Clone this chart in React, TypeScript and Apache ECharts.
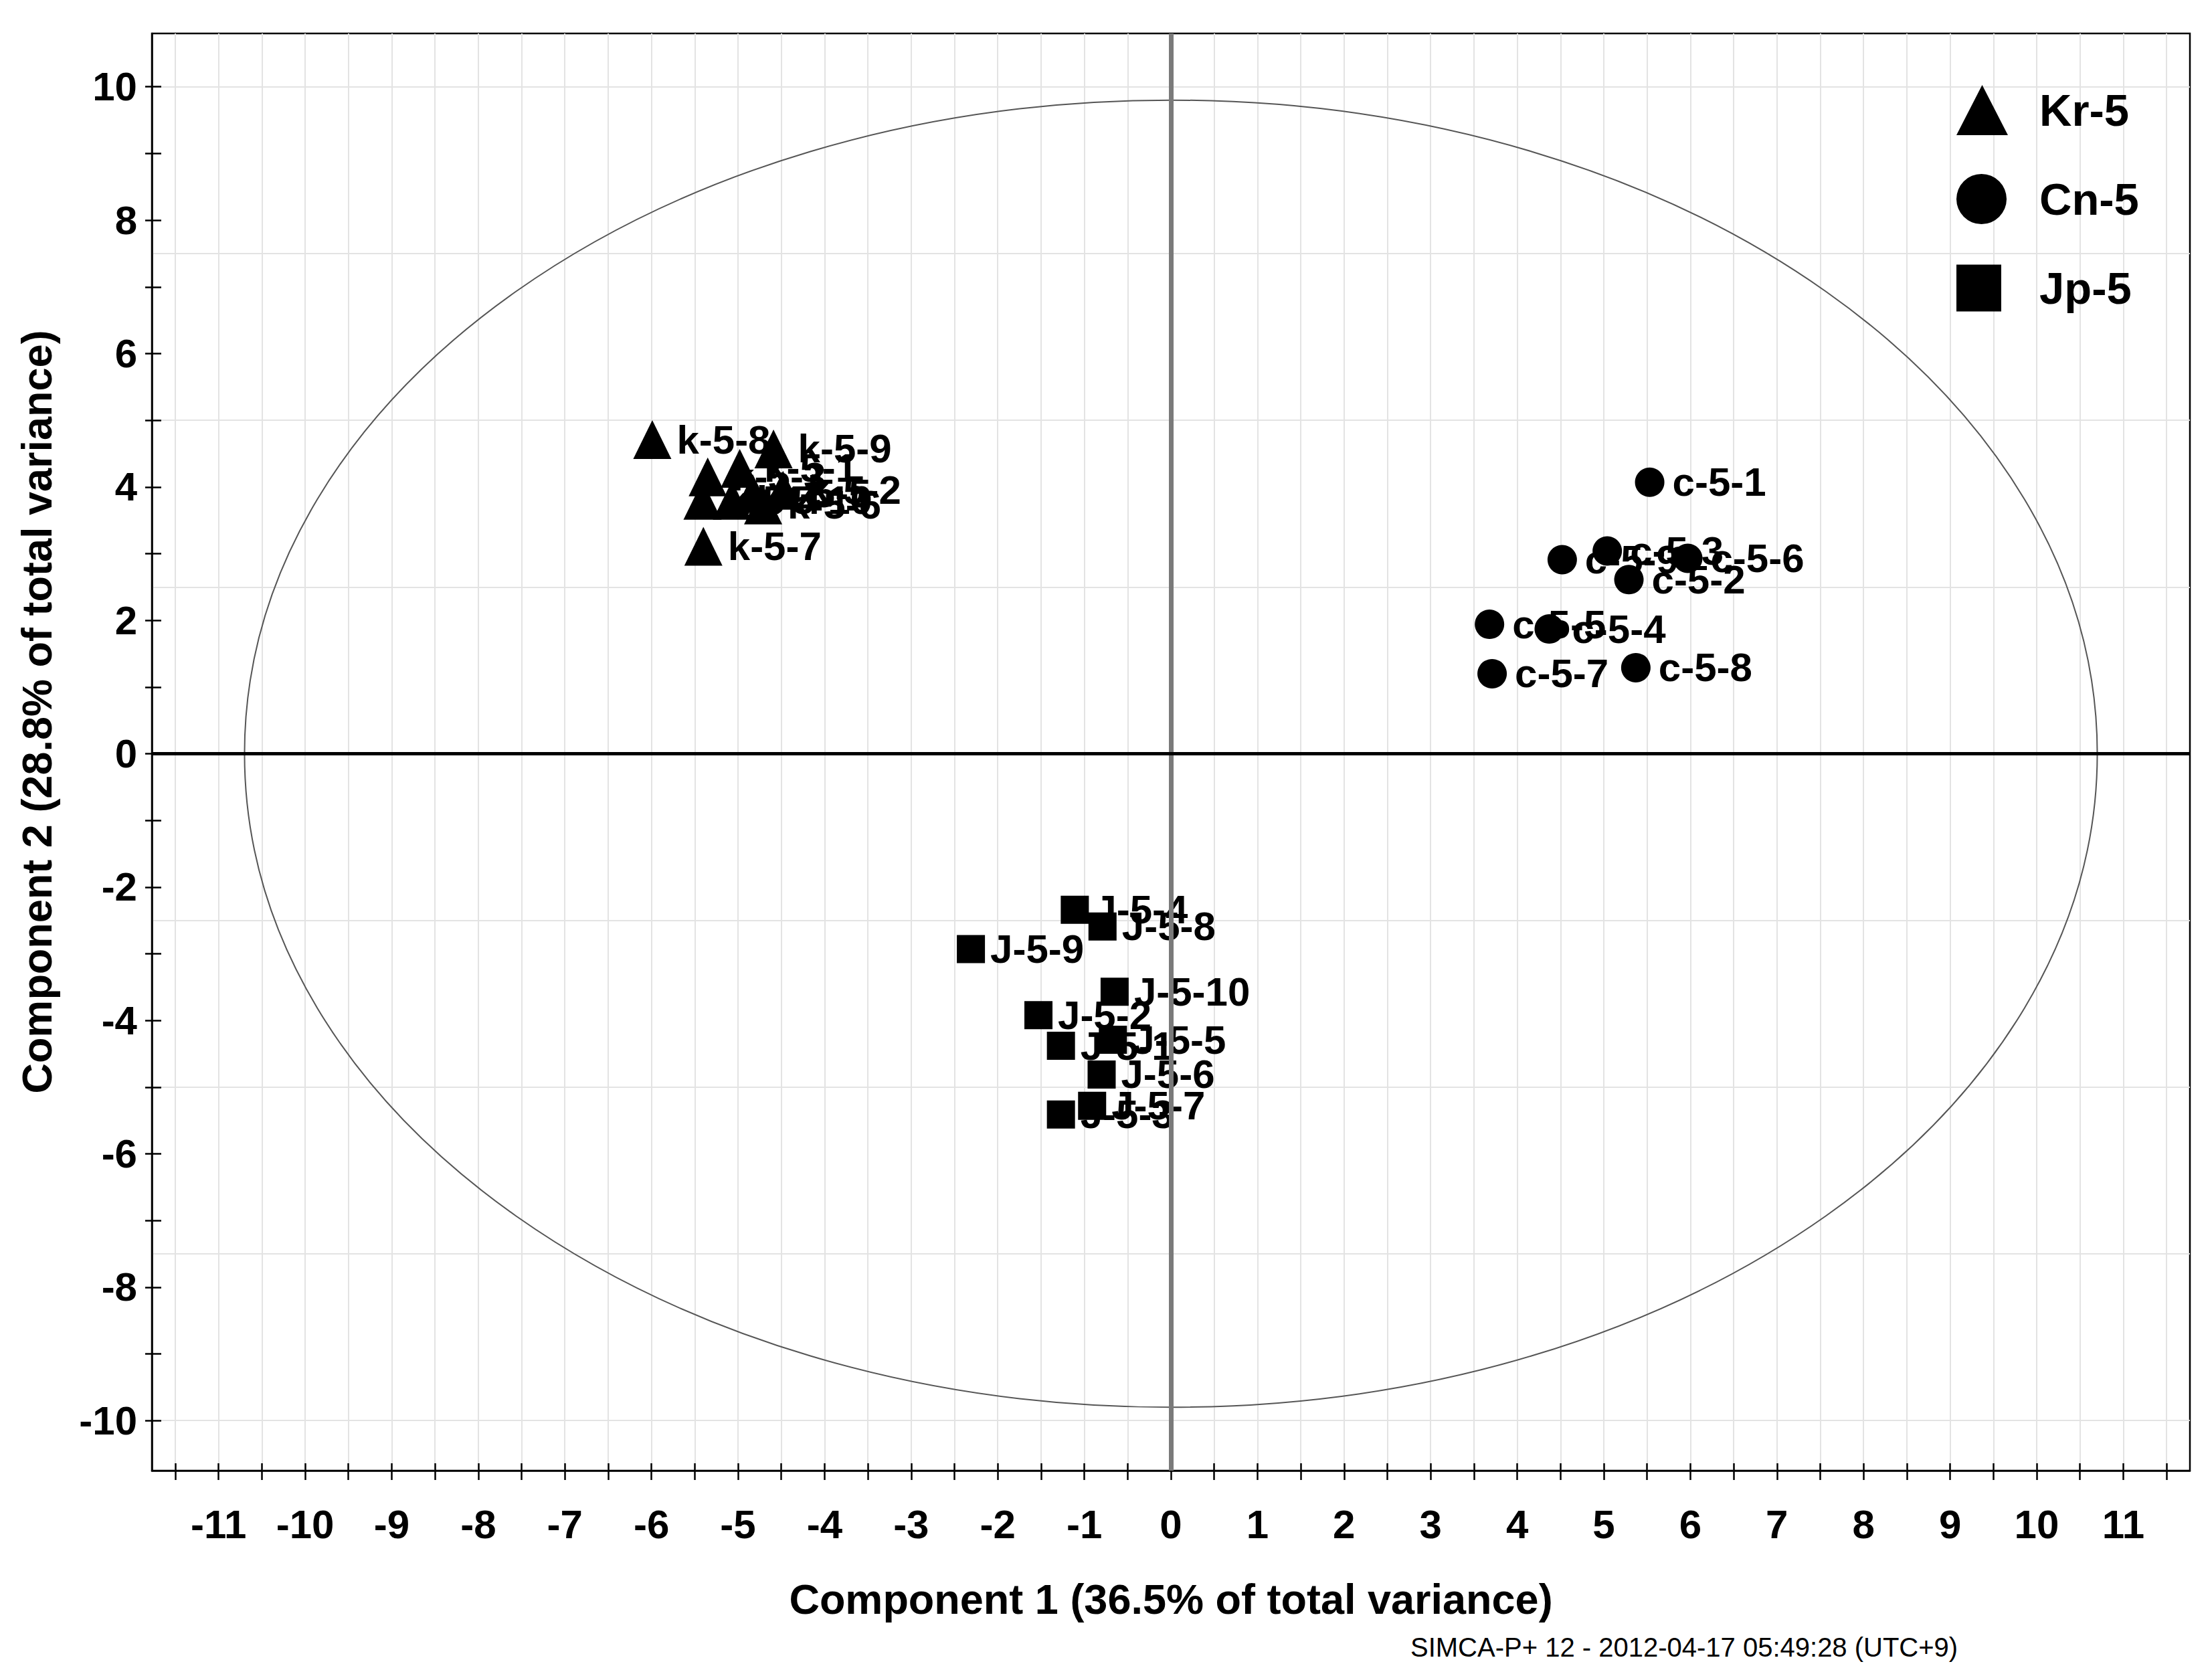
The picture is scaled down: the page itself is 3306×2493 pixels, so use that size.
import React, { useEffect, useRef } from 'react';
import * as echarts from 'echarts';

const FONT = '"Liberation Sans", Arial, Helvetica, sans-serif';

// ---- data ----
const krNames = ['k-5-1', 'k-5-2', 'k-5-3', 'k-5-4', 'k-5-5', 'k-5-6', 'k-5-7', 'k-5-8', 'k-5-9', 'k-5-10'];
const krX = [-4.98, -4.48, -5.35, -5.41, -4.83, -4.71, -5.4, -5.99, -4.59, -5.07];
const krY = [4.28, 3.95, 4.15, 3.8, 3.9, 3.73, 3.11, 4.71, 4.57, 3.8];

const cnNames = ['c-5-1', 'c-5-2', 'c-5-3', 'c-5-4', 'c-5-5', 'c-5-6', 'c-5-7', 'c-5-8', 'c-5-9'];
const cnX = [5.53, 5.29, 5.04, 4.37, 3.68, 5.97, 3.71, 5.37, 4.52];
const cnY = [4.07, 2.61, 3.04, 1.87, 1.94, 2.93, 1.2, 1.29, 2.91];

const jpNames = ['J-5-1', 'J-5-2', 'J-5-3', 'J-5-4', 'J-5-5', 'J-5-6', 'J-5-7', 'J-5-8', 'J-5-9', 'J-5-10'];
const jpX = [-1.27, -1.53, -1.27, -1.11, -0.67, -0.8, -0.91, -0.79, -2.31, -0.65];
const jpY = [-4.38, -3.92, -5.41, -2.34, -4.29, -4.81, -5.28, -2.59, -2.93, -3.57];

// Hotelling ellipse radii (component units)
const ellipseRadii = [10.7, 9.8];

// ---- axes ----
const xLabelValues = [-11, -10, -9, -8, -7, -6, -5, -4, -3, -2, -1, 0, 1, 2, 3, 4, 5, 6, 7, 8, 9, 10, 11];
const xTickValues = [
  -11.5, -11, -10.5, -10, -9.5, -9, -8.5, -8, -7.5, -7, -6.5, -6, -5.5, -5, -4.5, -4, -3.5, -3, -2.5, -2,
  -1.5, -1, -0.5, 0, 0.5, 1, 1.5, 2, 2.5, 3, 3.5, 4, 4.5, 5, 5.5, 6, 6.5, 7, 7.5, 8, 8.5, 9, 9.5, 10,
  10.5, 11, 11.5,
];
const yLabelValues = [-10, -8, -6, -4, -2, 0, 2, 4, 6, 8, 10];
const yTickValues = [-10, -9, -8, -7, -6, -5, -4, -3, -2, -1, 0, 1, 2, 3, 4, 5, 6, 7, 8, 9, 10];
const yGridValues = [-10, -7.5, -5, -2.5, 0, 2.5, 5, 7.5, 10];

const X_MIN = -11.77;
const X_MAX = 11.77;
const Y_MIN = -10.75;
const Y_MAX = 10.8;

const xTitle = 'Component 1 (36.5% of total variance)';
const yTitle = 'Component 2 (28.8% of total variance)';
const footer = 'SIMCA-P+ 12 - 2012-04-17 05:49:28 (UTC+9)';

// Legend icons drawn in a 160x75 box (corner anchors keep the box size), icon left-aligned at x=41
const BOX = 'M0,0 L0,0 Z M160,75 L160,75 Z ';
const legendIcons = {
  kr: 'path://' + BOX + 'M79.5,0 L118,75 L41,75 Z',
  cn: 'path://' + BOX + 'M41,37.5 A37.5,37.5 0 1 1 116,37.5 A37.5,37.5 0 1 1 41,37.5 Z',
  jp: 'path://' + BOX + 'M41,2.5 L108,2.5 L108,72.5 L41,72.5 Z',
};

const toPoints = (xs: number[], ys: number[], names: string[]) =>
  xs.map((x, i) => ({ value: [x, ys[i]], name: names[i] }));

const labelStyle = (distance: number) => ({
  show: true,
  position: 'right',
  distance,
  formatter: (p: any) => p.name,
  fontSize: 60,
  fontWeight: 'bold',
  fontFamily: FONT,
  color: '#000',
  opacity: 1,
});

function buildOption(): any {
  const axisLabelCommon = {
    fontSize: 60,
    fontWeight: 'bold',
    fontFamily: FONT,
    color: '#000',
  };
  return {
    animation: false,
    backgroundColor: '#fff',
    grid: {
      left: 227,
      top: 50,
      right: 33,
      bottom: 295,
      show: true,
      borderColor: '#000',
      borderWidth: 2.5,
      containLabel: false,
    },
    legend: {
      orient: 'vertical',
      left: 2878,
      top: 122,
      itemWidth: 160,
      itemHeight: 75,
      itemGap: 58,
      selectedMode: false,
      data: [
        { name: 'Kr-5', icon: legendIcons.kr },
        { name: 'Cn-5', icon: legendIcons.cn },
        { name: 'Jp-5', icon: legendIcons.jp },
      ],
      itemStyle: { opacity: 1 },
      textStyle: { fontSize: 67, fontWeight: 'bold', fontFamily: FONT, color: '#000' },
    },
    xAxis: [
      {
        type: 'value',
        min: X_MIN,
        max: X_MAX,
        position: 'bottom',
        axisLine: { show: true, onZero: false, lineStyle: { color: '#000', width: 2.5 } },
        axisTick: {
          show: true,
          inside: false,
          length: 14,
          customValues: xTickValues,
          lineStyle: { color: '#000', width: 2.5 },
        },
        axisLabel: { ...axisLabelCommon, margin: 50, customValues: xLabelValues },
        splitLine: { show: true, lineStyle: { color: '#e3e3e3', width: 2 } },
      },
      {
        type: 'value',
        min: X_MIN,
        max: X_MAX,
        position: 'bottom',
        axisLine: { show: false, onZero: false },
        axisTick: {
          show: true,
          inside: true,
          length: 11,
          customValues: xTickValues,
          lineStyle: { color: '#000', width: 2.5 },
        },
        axisLabel: { show: false },
        splitLine: { show: false },
      },
    ],
    yAxis: [
      {
        type: 'value',
        min: Y_MIN,
        max: Y_MAX,
        position: 'left',
        axisLine: { show: true, onZero: false, lineStyle: { color: '#000', width: 2.5 } },
        axisTick: {
          show: true,
          inside: false,
          length: 10,
          customValues: yTickValues,
          lineStyle: { color: '#000', width: 2.5 },
        },
        axisLabel: { ...axisLabelCommon, margin: 22, customValues: yLabelValues },
        splitLine: { show: false },
      },
      {
        type: 'value',
        min: Y_MIN,
        max: Y_MAX,
        position: 'left',
        axisLine: { show: false, onZero: false },
        axisTick: {
          show: true,
          inside: true,
          length: 14,
          customValues: yTickValues,
          lineStyle: { color: '#000', width: 2.5 },
        },
        axisLabel: { show: false },
        splitLine: { show: false },
      },
      {
        type: 'value',
        min: Y_MIN,
        max: Y_MAX,
        position: 'left',
        axisLine: { show: false, onZero: false },
        axisTick: { show: false, customValues: yGridValues },
        axisLabel: { show: false },
        splitLine: { show: true, lineStyle: { color: '#e3e3e3', width: 2 } },
      },
    ],
    graphic: [
      {
        type: 'text',
        x: 1750,
        y: 2390,
        style: {
          text: xTitle,
          fontSize: 63,
          fontWeight: 'bold',
          fontFamily: FONT,
          fill: '#000',
          align: 'center',
          verticalAlign: 'middle',
        },
      },
      {
        type: 'text',
        x: 55,
        y: 1064,
        rotation: Math.PI / 2,
        style: {
          text: yTitle,
          fontSize: 63,
          fontWeight: 'bold',
          fontFamily: FONT,
          fill: '#000',
          align: 'center',
          verticalAlign: 'middle',
        },
      },
      {
        type: 'text',
        x: 2108,
        y: 2462,
        style: {
          text: footer,
          fontSize: 40,
          fontFamily: FONT,
          fill: '#000',
          align: 'left',
          verticalAlign: 'middle',
        },
      },
    ],
    series: [
      {
        type: 'custom',
        name: 'ellipse',
        silent: true,
        clip: false,
        z: 1,
        data: [[0, 0, ellipseRadii[0], ellipseRadii[1]]],
        encode: { x: 0, y: 1 },
        renderItem: (_params: any, api: any) => {
          const c = api.coord([api.value(0), api.value(1)]);
          const s = api.size([api.value(2), api.value(3)]);
          return {
            type: 'ellipse',
            shape: { cx: c[0], cy: c[1], rx: s[0], ry: s[1] },
            style: { fill: 'none', stroke: '#555', lineWidth: 2 },
            silent: true,
          };
        },
      },
      {
        type: 'scatter',
        name: 'Kr-5',
        symbol: 'triangle',
        symbolSize: [57, 58],
        itemStyle: { color: '#000', opacity: 1 },
        label: labelStyle(8),
        emphasis: { disabled: true },
        z: 3,
        data: toPoints(krX, krY, krNames),
        markLine: {
          silent: true,
          symbol: ['none', 'none'],
          label: { show: false },
          emphasis: { disabled: true },
          data: [
            { xAxis: 0, lineStyle: { color: '#7a7a7a', width: 7, type: 'solid', opacity: 1 } },
            { yAxis: 0, lineStyle: { color: '#000', width: 5, type: 'solid', opacity: 1 } },
          ],
        },
      },
      {
        type: 'scatter',
        name: 'Cn-5',
        symbol: 'circle',
        symbolSize: 44,
        itemStyle: { color: '#000', opacity: 1 },
        label: labelStyle(12),
        emphasis: { disabled: true },
        z: 3,
        data: toPoints(cnX, cnY, cnNames),
      },
      {
        type: 'scatter',
        name: 'Jp-5',
        symbol: 'rect',
        symbolSize: 42,
        itemStyle: { color: '#000', opacity: 1 },
        label: labelStyle(8),
        emphasis: { disabled: true },
        z: 3,
        data: toPoints(jpX, jpY, jpNames),
      },
    ],
  };
}

export default function App() {
  const ref = useRef<HTMLDivElement>(null);
  useEffect(() => {
    if (!ref.current) return;
    const chart = echarts.init(ref.current, null, { renderer: 'svg' });
    chart.setOption(buildOption());
    return () => chart.dispose();
  }, []);
  return (
    <div
      ref={ref}
      style={{ position: 'fixed', left: 0, top: 0, width: 3306, height: 2493, background: '#fff' }}
    />
  );
}
